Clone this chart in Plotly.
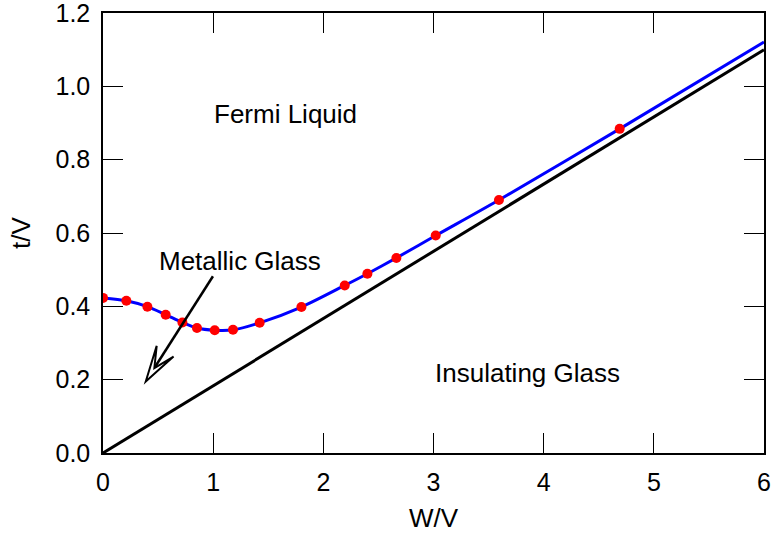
import math
import plotly.graph_objects as go

# ---- data ----
dot_x = [0.0, 0.212, 0.403, 0.569, 0.721, 0.853, 1.014, 1.180, 1.422, 1.801,
         2.194, 2.400, 2.663, 3.020, 3.594, 4.690]
dot_y = [0.423, 0.415, 0.399, 0.377, 0.356, 0.341, 0.335, 0.336, 0.355, 0.398,
         0.457, 0.489, 0.532, 0.593, 0.690, 0.884]
curve_end_x = [6.0]
curve_end_y = [1.121]
boundary_x = [0.0, 6.0]
boundary_y = [0.0, 1.10]

x_ticks = [0, 1, 2, 3, 4, 5, 6]
y_ticks = [0.0, 0.2, 0.4, 0.6, 0.8, 1.0, 1.2]
x_range = [0, 6]
y_range = [0, 1.2]

labels = ["Fermi Liquid", "Metallic Glass", "Insulating Glass"]
label_x = [1.657, 1.248, 3.851]
label_y = [0.925, 0.525, 0.218]

arrow_tail = (0.998, 0.482)
arrow_tip = (0.388, 0.195)

# ---- layout geometry ----
W, H = 773, 533
ML, MR, MT, MB = 103, 9, 13, 80
FONT = "Liberation Sans, Arial, Helvetica, sans-serif"
FS = 25
FS_TXT = 26

fig = go.Figure()

fig.add_trace(go.Scatter(x=boundary_x, y=boundary_y, mode="lines",
                         line=dict(color="black", width=3), showlegend=False))
fig.add_trace(go.Scatter(x=dot_x + curve_end_x, y=dot_y + curve_end_y, mode="lines",
                         line=dict(color="#0000ff", width=3, shape="spline", smoothing=0.8),
                         showlegend=False))
fig.add_trace(go.Scatter(x=dot_x, y=dot_y, mode="markers",
                         marker=dict(color="#ff0000", size=10, line=dict(width=0)),
                         showlegend=False))

for t, x, y in zip(labels, label_x, label_y):
    fig.add_annotation(x=x, y=y, text=t, showarrow=False, xanchor="center", yanchor="middle",
                       font=dict(family=FONT, size=FS_TXT, color="black"))

# open arrowhead built in pixel space, converted to data units
sx = (W - ML - MR) / (x_range[1] - x_range[0])
sy = (H - MT - MB) / (y_range[1] - y_range[0])
dxp = (arrow_tip[0] - arrow_tail[0]) * sx
dyp = (arrow_tip[1] - arrow_tail[1]) * sy
L = math.hypot(dxp, dyp)
ux, uy = dxp / L, dyp / L
nx, ny = -uy, ux
head_len, head_half, notch = 36, 10, 16


def to_data(px, py):
    return arrow_tip[0] + px / sx, arrow_tip[1] + py / sy


w1 = to_data(-head_len * ux + head_half * nx, -head_len * uy + head_half * ny)
w2 = to_data(-head_len * ux - head_half * nx, -head_len * uy - head_half * ny)
nt = to_data(-notch * ux, -notch * uy)

fig.add_shape(type="line", x0=arrow_tail[0], y0=arrow_tail[1], x1=nt[0], y1=nt[1],
              line=dict(color="black", width=2.5))
fig.add_shape(type="path",
              path=f"M {arrow_tip[0]},{arrow_tip[1]} L {w1[0]},{w1[1]} L {nt[0]},{nt[1]} "
                   f"L {w2[0]},{w2[1]} Z",
              line=dict(color="black", width=2), fillcolor="white")

axis_common = dict(showgrid=False, zeroline=False, showline=True, linecolor="black",
                   linewidth=1.5, mirror="ticks", ticks="inside", ticklen=20, tickwidth=1,
                   tickcolor="black", ticklabeloverflow="allow",
                   tickfont=dict(family=FONT, size=FS, color="black"))

fig.update_xaxes(range=x_range, tickvals=x_ticks, ticktext=[str(v) for v in x_ticks],
                 title=dict(text="W/V", font=dict(family=FONT, size=FS_TXT, color="black"), standoff=15),
                 ticklabelstandoff=6, **axis_common)
fig.update_yaxes(range=y_range, tickvals=y_ticks, ticktext=[f"{v:.1f}" for v in y_ticks],
                 title=dict(text="t/V", font=dict(family=FONT, size=FS_TXT, color="black"), standoff=17),
                 ticklabelstandoff=6, **axis_common)

fig.update_layout(width=W, height=H, margin=dict(l=ML, r=MR, t=MT, b=MB, autoexpand=False),
                  plot_bgcolor="white", paper_bgcolor="white",
                  font=dict(family=FONT, size=FS, color="black"))

fig.write_html("out.html", config={"displayModeBar": False},
               post_script="document.body.style.margin='0';document.body.style.overflow='hidden';")
